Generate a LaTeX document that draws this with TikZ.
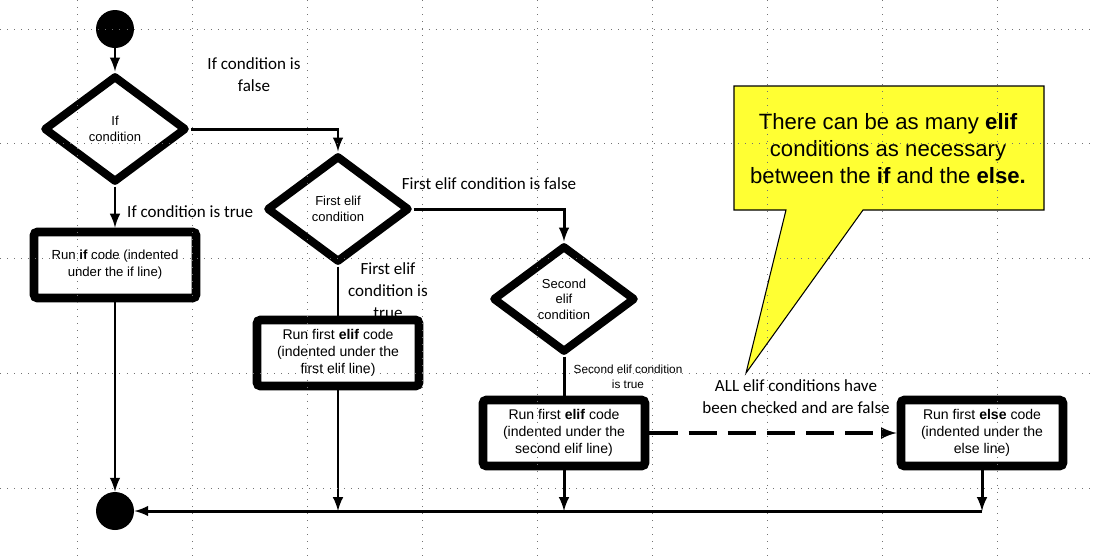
\documentclass[tikz,border=0pt]{standalone}
\usepackage{fontspec}
\setmainfont{Liberation Sans}
\newfontfamily\notefont{Carlito}
\usepackage{tikz}
\usetikzlibrary{%
  arrows,%
  calc,%
  shapes.geometric%
}
\tikzset{>=latex}
\definecolor{calloutyellow}{RGB}{255,255,51}

\begin{document}
\begin{tikzpicture}[x=0.02cm,y=-0.02cm,
    decision/.style={diamond,draw,line width=4.6pt,line join=round,fill=white,
      inner sep=0pt,minimum width=2.86cm,minimum height=2.14cm,align=center,
      font=\fontsize{7.4}{8.8}\selectfont},
    action/.style={rectangle,draw,rounded corners=2pt,line width=5pt,fill=white,
      minimum width=3.24cm,minimum height=1.32cm,align=center,
      font=\fontsize{8}{9.7}\selectfont},
    terminal/.style={circle,fill=black,minimum size=0.76cm,inner sep=0pt},
    flow/.style={line width=1.7pt},
    note/.style={align=center,font=\notefont\fontsize{9.7}{12.5}\selectfont},
    smallnote/.style={align=center,font=\fontsize{6.7}{8.5}\selectfont},
    griddots/.style={black!55,line width=0.5pt,dash pattern=on 0.5pt off 3.5pt}]
    \useasboundingbox (0,0) rectangle (1094,556);

    % callout
    \coordinate (tip) at (746,373);
    \draw[fill=calloutyellow,line width=0.6pt] (734,86) -- (1044,86) -- (1044,210)
      -- (863,210) -- (tip) -- (786,210) -- (734,210) -- cycle;
    \node[align=center,font=\fontsize{12.6}{15.4}\selectfont] (hint) at (888,149)
      {There can be as many \textbf{elif}\\conditions as necessary\\between the \textbf{if} and the \textbf{else.}};

    % labels (drawn first, boxes may cover them)
    \node[note] (iffalse) at (254,75) {If condition is\\false};
    \node[note,anchor=west] (iftrue) at (121,212) {If condition is true};
    \node[note] (elifonefalse) at (489,184) {First elif condition is false};
    \node[note] (elifonetrue) at (388,291) {First elif\\condition is\\true};
    \node[smallnote] (eliftwotrue) at (628,377) {Second elif condition\\is true};
    \node[note] (allfalse) at (796,397) {ALL elif conditions have\\been checked and are false};

    % nodes
    \node[terminal] (start) at (115,29) {};
    \node[decision] (ifcond) at (115,129) {If\\condition};
    \node[action,font=\fontsize{7.5}{9.7}\selectfont] (runif) at (115,265) {Run \textbf{if} code (indented\\under the if line)};
    \node[decision] (elifone) at (338,209) {First elif\\condition};
    \node[action] (runelifone) at (338,353) {Run first \textbf{elif} code\\(indented under the\\first elif line)};
    \node[decision] (eliftwo) at (564,299) {Second\\elif\\condition};
    \node[action] (runeliftwo) at (564,433) {Run first \textbf{elif} code\\(indented under the\\second elif line)};
    \node[action] (runelse) at (982,433) {Run first \textbf{else} code\\(indented under the\\else line)};
    \node[terminal] (stop) at (115,511) {};
    \coordinate (join) at (982,511);

    % connectors
    \draw[flow,->] (start) -- (ifcond);
    \draw[flow,->] (ifcond.east) -| (elifone.north);
    \draw[flow,->] (ifcond) -- (runif);
    \draw[flow] (elifone) -- (runelifone);
    \draw[flow,->] (elifone.east) -| (eliftwo.north);
    \draw[flow] (eliftwo) -- (runeliftwo);
    \draw[flow,->,line width=2pt,dash pattern=on 16pt off 6.3pt] (runeliftwo) -- (runelse);
    \draw[flow,->] (runif) -- (stop);
    \draw[flow,->] (runelifone) -- (runelifone |- join);
    \draw[flow,->] (runeliftwo) -- (runeliftwo |- join);
    \draw[flow,->] (runelse) -- (join);
    \draw[flow,->] (join) -- (stop);

    % dotted grid
    \foreach \x in {77,192,...,997}
      \draw[griddots] (\x,0) -- (\x,556);
    \foreach \y in {29,143,258,373,488}
      \draw[griddots] (0,\y) -- (1094,\y);
\end{tikzpicture}
\end{document}
